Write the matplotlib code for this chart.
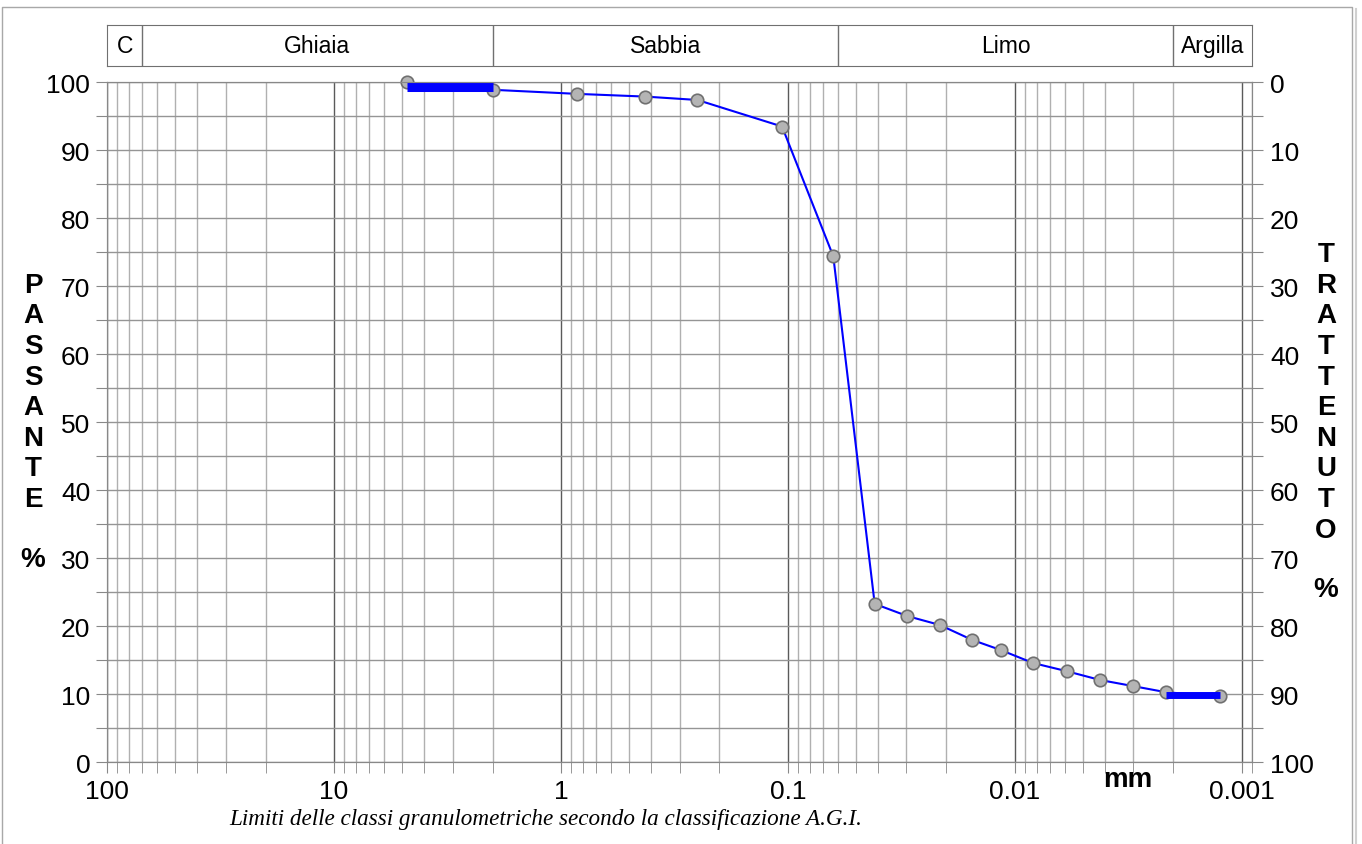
import numpy as np
import matplotlib
matplotlib.use('Agg')
import matplotlib.pyplot as plt
from matplotlib.lines import Line2D
from matplotlib.ticker import NullFormatter

plt.rcParams['font.family'] = ['Liberation Sans', 'DejaVu Sans']

# dati
diametri = [4.75, 2.0, 0.85, 0.425, 0.25, 0.106, 0.063, 0.0414, 0.0297, 0.0214,
            0.0154, 0.0115, 0.0083, 0.0059, 0.0042, 0.0030, 0.00215, 0.00125]
passante = [100, 98.9, 98.3, 97.9, 97.4, 93.5, 74.4, 23.3, 21.5, 20.2,
            18.0, 16.5, 14.6, 13.4, 12.1, 11.2, 10.3, 9.7]

barra1_x = [4.75, 2.0]
barra1_y = 99.35
barra2_x = [0.00215, 0.00125]
barra2_y = 9.85

classi = ['C', 'Ghiaia', 'Sabbia', 'Limo', 'Argilla']
limiti_classi = [100, 70, 2, 0.06, 0.002, 0.0009]

x_ticks = [100, 10, 1, 0.1, 0.01, 0.001]
x_labels = ['100', '10', '1', '0.1', '0.01', '0.001']
y_ticks = list(range(0, 101, 5))

W, H = 1362, 845


def box(x0, y0, x1, y1):
    return [x0 / W, 1 - y1 / H, (x1 - x0) / W, (y1 - y0) / H]


fig = plt.figure(figsize=(W / 100, H / 100), dpi=100)

ax = fig.add_axes(box(107, 83.3, 1252, 763.3))
ax.set_xscale('log')
ax.set_xlim(100, 0.0009)
ax.set_ylim(0, 100)

minori = [m * 10.0 ** e for e in range(-4, 2) for m in range(2, 10)]
minori = [v for v in minori if 0.0009 <= v <= 100]
ax.set_xticks(x_ticks)
ax.set_xticklabels(x_labels)
ax.set_xticks(minori, minor=True)
ax.xaxis.set_minor_formatter(NullFormatter())

ax.set_yticks(y_ticks)
ax.set_yticklabels([str(v) if v % 10 == 0 else '' for v in y_ticks])

ax.grid(which='major', axis='x', color='#5a5a5a', lw=1)
ax.grid(which='minor', axis='x', color='#b0b0b0', lw=1)
ax.grid(which='major', axis='y', color='#959595', lw=1)
ax.set_axisbelow(True)

ax.tick_params(which='both', direction='out', length=8, color='#888888',
               labelsize=19, pad=4)
ax.tick_params(axis='y', pad=4)
for s in ax.spines.values():
    s.set_color('#888888')

ax2 = ax.twinx()
ax2.set_ylim(100, 0)
ax2.set_yticks(y_ticks)
ax2.set_yticklabels([str(v) if v % 10 == 0 else '' for v in y_ticks])
ax2.tick_params(direction='out', length=8, color='#888888', labelsize=19, pad=5)
for s in ax2.spines.values():
    s.set_color('#888888')

ax.plot(diametri, passante, color='#0000ff', lw=1.5, zorder=3)
ax.plot(diametri, passante, 'o', ms=9, mfc='#b4b4b4', mec='#707070',
        mew=1.2, zorder=4, clip_on=False)
ax.plot(barra1_x, [barra1_y] * 2, color='#0000ff', lw=6.5,
        solid_capstyle='butt', zorder=5)
ax.plot(barra2_x, [barra2_y] * 2, color='#0000ff', lw=5,
        solid_capstyle='butt', zorder=5)

# intestazione con le classi
hx = fig.add_axes(box(107, 26.3, 1252, 67))
hx.set_xscale('log')
hx.set_xlim(100, 0.0009)
hx.set_ylim(0, 1)
hx.set_xticks([])
hx.set_yticks([])
hx.minorticks_off()
for s in hx.spines.values():
    s.set_color('#707070')
for v in limiti_classi[1:-1]:
    hx.axvline(v, color='#707070', lw=1)
for i, nome in enumerate(classi):
    xc = np.sqrt(limiti_classi[i] * limiti_classi[i + 1])
    hx.text(xc, 0.5, nome, ha='center', va='center', fontsize=16.5)

fig.text(33 / W, 1 - 393 / H, '\n'.join('PASSANTE'), ha='center', va='center',
         fontsize=20, fontweight='bold', linespacing=1.23)
fig.text(33 / W, 1 - 560 / H, '%', ha='center', va='center',
         fontsize=20, fontweight='bold')
fig.text(1326 / W, 1 - 393 / H, '\n'.join('TRATTENUTO'), ha='center', va='center',
         fontsize=20, fontweight='bold', linespacing=1.23)
fig.text(1326 / W, 1 - 590 / H, '%', ha='center', va='center',
         fontsize=20, fontweight='bold')
fig.text(1128 / W, 1 - 780 / H, 'mm', ha='center', va='center',
         fontsize=20, fontweight='bold')
fig.text(229 / W, 1 - 820 / H,
         'Limiti delle classi granulometriche secondo la classificazione A.G.I.',
         ha='left', va='center', fontsize=16.7, style='italic',
         family=['Liberation Serif', 'DejaVu Serif'])

# cornice
fig.add_artist(Line2D([1.5 / W, 1.5 / W, 1352 / W, 1352 / W],
                      [0, 1 - 8 / H, 1 - 8 / H, 0],
                      transform=fig.transFigure, color='#a8a8a8', lw=1))
fig.add_artist(Line2D([1355.5 / W, 1355.5 / W], [0, 1 - 10 / H],
                      transform=fig.transFigure, color='#d0d0d0', lw=1.5))

fig.savefig('out.png', dpi=100)
